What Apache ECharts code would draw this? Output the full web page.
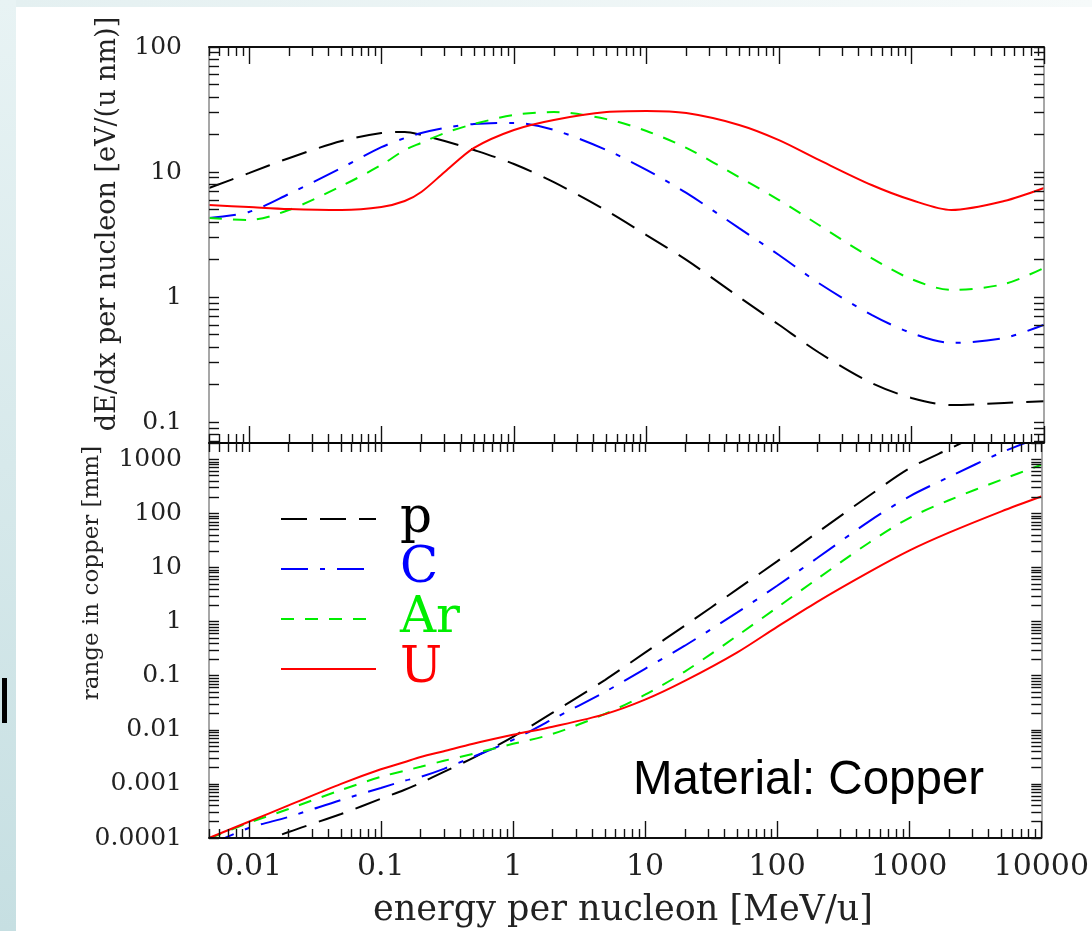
<!DOCTYPE html>
<html>
<head>
<meta charset="utf-8">
<title>Stopping power and range in copper</title>
<script src="https://cdn.jsdelivr.net/npm/echarts@6/dist/echarts.min.js"></script>
<style>
  html, body { margin: 0; padding: 0; background: #fff; }
  #chart { width: 1092px; height: 931px; }
</style>
</head>
<body>
<div id="chart"></div>
<script>
// energy per nucleon [MeV/u]
var energy = [0.005, 0.01, 0.02, 0.05, 0.1, 0.15, 0.2, 0.3, 0.5, 1, 2, 5, 10, 20, 50, 100, 200, 500, 1000, 2000, 5000, 10000];

// dE/dx per nucleon [eV/(u nm)]
var dedxP  = [7.45, 9.8, 12.9, 17.7, 20.5, 20.9, 19.8, 17.7, 15, 11.6, 8.3, 4.9, 3.13, 1.98, 1.0, 0.6, 0.36, 0.205, 0.156, 0.137, 0.142, 0.147];
var dedxC  = [4.29, 4.79, 6.67, 10.8, 15.8, 18.7, 20.5, 22.5, 24.2, 24.7, 21.7, 15, 10.4, 6.8, 3.56, 2.17, 1.29, 0.72, 0.515, 0.43, 0.47, 0.6];
var dedxAr = [4.29, 4.13, 4.97, 7.73, 11.4, 15, 17.1, 20.5, 24.2, 28.6, 30.2, 26.5, 21.3, 15.6, 9.1, 5.97, 3.77, 2.05, 1.39, 1.14, 1.27, 1.71];
var dedxU  = [5.45, 5.25, 5.06, 4.97, 5.25, 5.86, 6.92, 10, 15.6, 21.7, 26.1, 30.2, 30.8, 29.6, 23.8, 18, 12.5, 7.87, 5.97, 4.97, 5.86, 7.45];

// range in copper [mm]
var rangeP  = [3.6e-5, 6.8e-5, 1.29e-4, 2.78e-4, 5.3e-4, 7.7e-4, 1.04e-3, 1.67e-3, 3.03e-3, 7.4e-3, 0.0207, 0.084, 0.267, 0.84, 3.98, 13.0, 43.7, 214, 676, 1550, 4470, 8900];
var rangeC  = [7.4e-5, 1.53e-4, 2.45e-4, 5.05e-4, 8.4e-4, 1.14e-3, 1.35e-3, 1.9e-3, 3.16e-3, 6.5e-3, 0.0157, 0.0506, 0.134, 0.358, 1.48, 4.6, 14.8, 72, 205, 470, 1340, 2600];
var rangeAr = [0.98e-4, 1.9e-4, 3.44e-4, 7.7e-4, 1.35e-3, 1.74e-3, 2.07e-3, 2.67e-3, 3.6e-3, 5.5e-3, 8.4e-3, 0.0198, 0.0445, 0.119, 0.55, 1.82, 6.1, 29, 82, 175, 420, 790];
var rangeU  = [1.0e-4, 2.0e-4, 4.0e-4, 1.0e-3, 1.86e-3, 2.51e-3, 3.13e-3, 4.02e-3, 5.52e-3, 8.07e-3, 0.0114, 0.0195, 0.036, 0.08, 0.27, 0.8, 2.3, 8.3, 20.5, 44, 109, 205];

// tick labels
var xTicks = [0.01, 0.1, 1, 10, 100, 1000, 10000];
var xTickLabels = ['0.01', '0.1', '1', '10', '100', '1000', '10000'];
var dedxTicks = [0.1, 1, 10, 100];
var dedxTickLabels = ['0.1', '1', '10', '100'];
var rangeTicks = [0.0001, 0.001, 0.01, 0.1, 1, 10, 100, 1000];
var rangeTickLabels = ['0.0001', '0.001', '0.01', '0.1', '1', '10', '100', '1000'];

var xMin = 0.005, xMax = 10000;
var dedxMin = 0.068, dedxMax = 100;
var rangeMin = 0.0001, rangeMax = 2000;

var serif = 'DejaVu Serif';

function pairs(ys) {
    return energy.map(function (e, i) { return [e, ys[i]]; });
}

function log10All(arr) {
    return arr.map(function (v) { return Math.log10(v); });
}

// k x 10^d inside [lo, hi], in log10 units
function minorTicks(lo, hi, withMajor) {
    var out = [];
    for (var d = Math.floor(Math.log10(lo)) - 1; d <= Math.ceil(Math.log10(hi)); d++) {
        for (var k = withMajor ? 1 : 2; k <= 9; k++) {
            var v = k * Math.pow(10, d);
            if (v >= lo && v <= hi) out.push(Math.log10(v));
        }
    }
    return out;
}

function labelFormatter(vals, labels) {
    return function (v) {
        for (var i = 0; i < vals.length; i++) {
            if (Math.abs(Math.log10(vals[i]) - v) < 1e-6) return labels[i];
        }
        return '';
    };
}

// frame / tick axes drawn in log10 space over the hidden log axes
function frameAxis(grid, pos, lo, hi, ticks, len, lineColor, label) {
    var ax = {
        type: 'value',
        gridIndex: grid,
        position: pos,
        min: Math.log10(lo),
        max: Math.log10(hi),
        axisLine: { show: true, onZero: false, lineStyle: { color: lineColor, width: 1.5 } },
        axisTick: { show: true, inside: true, length: len, customValues: ticks, lineStyle: { color: '#111', width: 1.4 } },
        axisLabel: { show: false },
        splitLine: { show: false },
        z: 5
    };
    if (label) {
        ax.axisLabel = {
            show: true,
            customValues: log10All(label.vals),
            formatter: labelFormatter(label.vals, label.text),
            fontFamily: serif,
            fontSize: label.size,
            color: '#222',
            margin: label.margin
        };
    }
    return ax;
}

var xMajor = log10All(xTicks);
var xMinor = minorTicks(xMin, xMax, false);

var xAxes = [
    { type: 'log', gridIndex: 0, min: xMin, max: xMax, show: false },
    { type: 'log', gridIndex: 1, min: xMin, max: xMax, show: false },
    frameAxis(0, 'top', xMin, xMax, xMajor, 17, '#000'),
    frameAxis(0, 'top', xMin, xMax, xMinor, 9, '#000'),
    frameAxis(0, 'bottom', xMin, xMax, xMajor, 17, '#000'),
    frameAxis(0, 'bottom', xMin, xMax, xMinor, 9, '#000'),
    frameAxis(1, 'top', xMin, xMax, xMajor.concat(xMinor), 9, '#000'),
    frameAxis(1, 'bottom', xMin, xMax, xMajor, 17, '#000',
        { vals: xTicks, text: xTickLabels, size: 30, margin: 14 }),
    frameAxis(1, 'bottom', xMin, xMax, xMinor, 9, '#000')
];

var yAxes = [
    { type: 'log', gridIndex: 0, min: dedxMin, max: dedxMax, show: false },
    { type: 'log', gridIndex: 1, min: rangeMin, max: rangeMax, show: false },
    frameAxis(0, 'left', dedxMin, dedxMax, minorTicks(dedxMin, dedxMax, true), 10, '#8a8a8a',
        { vals: dedxTicks, text: dedxTickLabels, size: 25, margin: 27 }),
    frameAxis(0, 'right', dedxMin, dedxMax, minorTicks(dedxMin, dedxMax, true), 10, '#8a8a8a'),
    frameAxis(1, 'left', rangeMin, rangeMax, minorTicks(rangeMin, rangeMax, true), 10, '#8a8a8a',
        { vals: rangeTicks, text: rangeTickLabels, size: 25, margin: 27 }),
    frameAxis(1, 'right', rangeMin, rangeMax, minorTicks(rangeMin, rangeMax, true), 10, '#8a8a8a')
];

var styles = {
    p:  { color: '#000000', type: [26, 13] },
    C:  { color: '#0000ff', type: [27, 12, 5, 12] },
    Ar: { color: '#00ee00', type: [13, 11] },
    U:  { color: '#ff0000', type: 'solid' }
};

function line(name, grid, ys) {
    return {
        name: name,
        type: 'line',
        xAxisIndex: grid,
        yAxisIndex: grid,
        data: pairs(ys),
        symbol: 'none',
        smooth: 0.3,
        clip: true,
        lineStyle: { color: styles[name].color, width: 2, type: styles[name].type },
        itemStyle: { color: styles[name].color },
        z: 3
    };
}

var chart = echarts.init(document.getElementById('chart'), null, { renderer: 'canvas' });

chart.setOption({
    animation: false,
    backgroundColor: '#ffffff',
    grid: [
        { left: 209, top: 47, width: 835, height: 396 },
        { left: 209, top: 443, width: 835, height: 395 }
    ],
    xAxis: xAxes,
    yAxis: yAxes,
    legend: {
        left: 275,
        top: 489,
        orient: 'vertical',
        itemWidth: 95,
        itemHeight: 2,
        itemGap: 0,
        selectedMode: false,
        itemStyle: { opacity: 0 },
        textStyle: { fontFamily: serif, fontSize: 50, lineHeight: 48, padding: [0, 0, 0, 19] },
        data: [
            { name: 'p', textStyle: { color: '#000000' } },
            { name: 'C', textStyle: { color: '#0000ff' } },
            { name: 'Ar', textStyle: { color: '#00ee00' } },
            { name: 'U', textStyle: { color: '#ff0000' } }
        ]
    },
    graphic: [
        {
            type: 'rect', silent: true, z: -10,
            shape: { x: 0, y: 0, width: 16, height: 931 },
            style: { fill: new echarts.graphic.LinearGradient(0, 0, 0, 1, [
                { offset: 0, color: '#e8f3f4' }, { offset: 1, color: '#c6dfe2' }
            ]) }
        },
        {
            type: 'rect', silent: true, z: -10,
            shape: { x: 16, y: 0, width: 1076, height: 7 },
            style: { fill: new echarts.graphic.LinearGradient(0, 0, 1, 0, [
                { offset: 0, color: '#e4f0f1' }, { offset: 1, color: '#f6fafa' }
            ]) }
        },
        {
            type: 'rect', silent: true,
            shape: { x: 2, y: 678, width: 5, height: 45 },
            style: { fill: '#000' }
        },
        {
            type: 'text', silent: true,
            x: 108, y: 224, rotation: Math.PI / 2,
            style: { text: 'dE/dx per nucleon [eV/(u nm)]', fill: '#222', fontFamily: serif, fontSize: 27, align: 'center', verticalAlign: 'middle' }
        },
        {
            type: 'text', silent: true,
            x: 92, y: 573, rotation: Math.PI / 2,
            style: { text: 'range in copper [mm]', fill: '#222', fontFamily: serif, fontSize: 23, align: 'center', verticalAlign: 'middle' }
        },
        {
            type: 'text', silent: true,
            x: 623, y: 911,
            style: { text: 'energy per nucleon [MeV/u]', fill: '#222', fontFamily: serif, fontSize: 35, align: 'center', verticalAlign: 'middle' }
        },
        {
            type: 'text', silent: true,
            x: 633, y: 781,
            style: { text: 'Material: Copper', fill: '#000', fontFamily: 'Liberation Sans', fontSize: 47.5, align: 'left', verticalAlign: 'middle' }
        }
    ],
    series: [
        line('p', 0, dedxP),
        line('C', 0, dedxC),
        line('Ar', 0, dedxAr),
        line('U', 0, dedxU),
        line('p', 1, rangeP),
        line('C', 1, rangeC),
        line('Ar', 1, rangeAr),
        line('U', 1, rangeU)
    ]
});
</script>
</body>
</html>
